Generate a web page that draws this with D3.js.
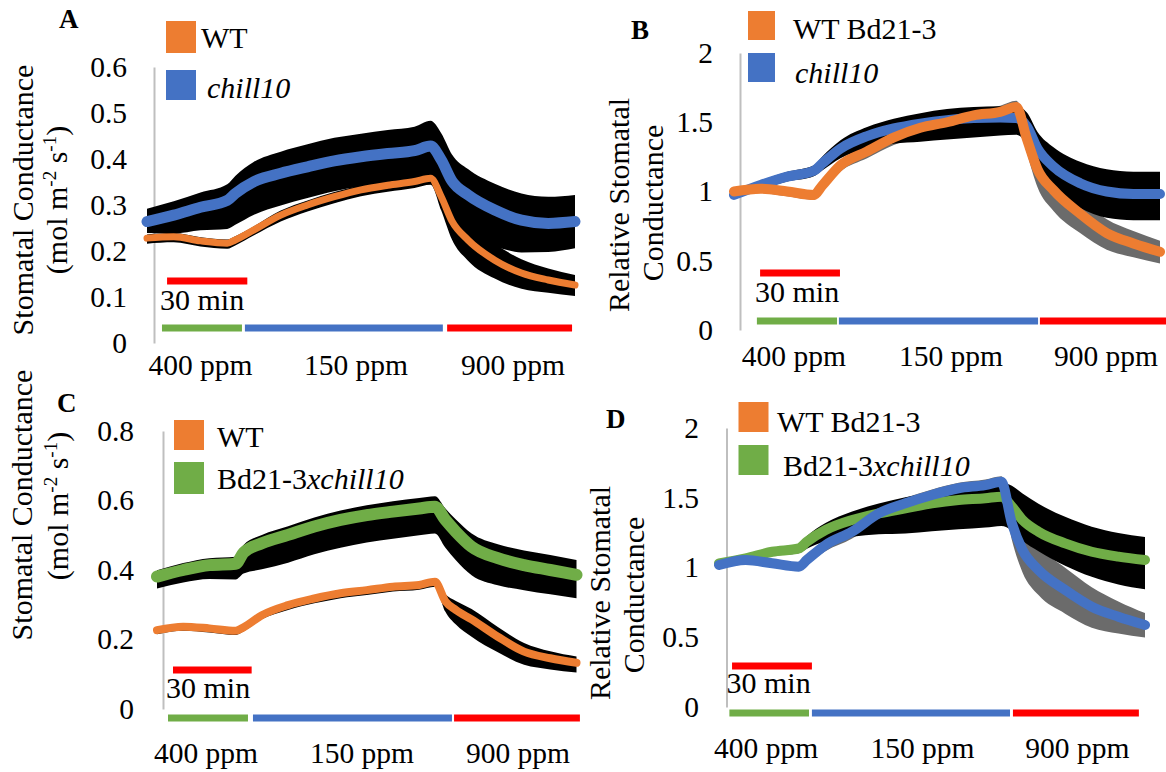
<!doctype html>
<html>
<head>
  <meta charset="utf8">
  <title>stomatal conductance</title>
  <style>
    body {
      margin: 0;
      padding: 0;
      background: #fff;
    }
    svg {
      display: block;
    }
  </style>
</head>
<body>
  <svg></svg>

  <script src="https://d3js.org/d3.v7.min.js"></script>
  <script>
    const width = 1166
    const height = 772
    const serif = "'Liberation Serif', 'Times New Roman', serif"

    // sample times (min) shared by every series
    const minutes = [0, 10, 20, 30, 33, 40, 50, 60, 70, 80, 90, 100, 106, 110, 114, 120, 130, 140, 150, 160]

    // A: stomatal conductance, WT vs chill10
    const wtA = [0.228, 0.231, 0.222, 0.217, 0.224, 0.246, 0.278, 0.300, 0.318, 0.333, 0.343, 0.351, 0.358, 0.318, 0.265, 0.224, 0.180, 0.152, 0.137, 0.126]
    const wtAHi = [0.008, 0.008, 0.008, 0.008, 0.008, 0.008, 0.01, 0.01, 0.01, 0.01, 0.01, 0.01, 0.01, 0.025, 0.035, 0.04, 0.036, 0.03, 0.025, 0.022]
    const wtALo = [0.012, 0.012, 0.012, 0.012, 0.012, 0.012, 0.014, 0.014, 0.014, 0.014, 0.014, 0.014, 0.014, 0.03, 0.04, 0.045, 0.04, 0.034, 0.028, 0.024]
    const chillA = [0.264, 0.278, 0.295, 0.310, 0.325, 0.351, 0.369, 0.383, 0.396, 0.405, 0.412, 0.418, 0.428, 0.398, 0.352, 0.322, 0.289, 0.267, 0.260, 0.264]
    const chillAHi = [0.028, 0.03, 0.032, 0.035, 0.038, 0.043, 0.047, 0.049, 0.05, 0.05, 0.051, 0.052, 0.055, 0.058, 0.058, 0.056, 0.057, 0.058, 0.058, 0.058]
    const chillALo = [0.025, 0.04, 0.05, 0.062, 0.068, 0.072, 0.07, 0.068, 0.066, 0.065, 0.065, 0.065, 0.065, 0.07, 0.078, 0.082, 0.078, 0.07, 0.062, 0.058]

    // B: relative conductance, WT Bd21-3 vs chill10
    const wtB = [1.00, 1.02, 1.00, 0.975, 1.04, 1.19, 1.29, 1.39, 1.46, 1.50, 1.55, 1.575, 1.61, 1.38, 1.16, 1.01, 0.84, 0.70, 0.625, 0.565]
    const wtBHi = [0.02, 0.02, 0.025, 0.025, 0.03, 0.035, 0.04, 0.045, 0.045, 0.045, 0.045, 0.045, 0.045, 0.08, 0.1, 0.11, 0.11, 0.1, 0.09, 0.08]
    const wtBLo = [0.025, 0.03, 0.035, 0.035, 0.04, 0.045, 0.05, 0.055, 0.055, 0.055, 0.055, 0.055, 0.055, 0.1, 0.13, 0.15, 0.14, 0.12, 0.1, 0.085]
    const chillB = [0.975, 1.047, 1.107, 1.15, 1.20, 1.31, 1.40, 1.455, 1.49, 1.515, 1.53, 1.535, 1.53, 1.47, 1.31, 1.18, 1.06, 1.00, 0.982, 0.982]
    const chillBHi = [0.02, 0.03, 0.035, 0.04, 0.05, 0.06, 0.065, 0.07, 0.075, 0.08, 0.08, 0.08, 0.085, 0.1, 0.12, 0.14, 0.155, 0.16, 0.16, 0.16]
    const chillBLo = [0.02, 0.03, 0.035, 0.04, 0.05, 0.07, 0.09, 0.11, 0.13, 0.14, 0.14, 0.13, 0.12, 0.13, 0.15, 0.17, 0.18, 0.19, 0.19, 0.19]

    // C: stomatal conductance, WT vs Bd21-3xchill10
    const wtC = [0.227, 0.237, 0.232, 0.225, 0.235, 0.270, 0.299, 0.318, 0.333, 0.342, 0.352, 0.357, 0.366, 0.310, 0.285, 0.258, 0.208, 0.165, 0.146, 0.133]
    const wtCHi = [0.006, 0.006, 0.006, 0.006, 0.006, 0.006, 0.008, 0.008, 0.008, 0.008, 0.008, 0.008, 0.008, 0.02, 0.026, 0.03, 0.028, 0.025, 0.02, 0.018]
    const wtCLo = [0.012, 0.012, 0.012, 0.012, 0.012, 0.012, 0.014, 0.014, 0.014, 0.014, 0.014, 0.014, 0.014, 0.03, 0.042, 0.05, 0.045, 0.038, 0.032, 0.028]
    const crossC = [0.381, 0.400, 0.414, 0.418, 0.450, 0.477, 0.501, 0.525, 0.544, 0.558, 0.568, 0.577, 0.582, 0.544, 0.510, 0.467, 0.434, 0.414, 0.400, 0.386]
    const crossCHi = [0.018, 0.02, 0.02, 0.02, 0.022, 0.024, 0.025, 0.026, 0.027, 0.028, 0.03, 0.03, 0.03, 0.033, 0.035, 0.038, 0.04, 0.042, 0.043, 0.043]
    const crossCLo = [0.034, 0.036, 0.04, 0.045, 0.06, 0.075, 0.08, 0.08, 0.08, 0.079, 0.078, 0.077, 0.077, 0.08, 0.082, 0.082, 0.078, 0.072, 0.07, 0.067]

    // D: relative conductance, WT Bd21-3 vs Bd21-3xchill10
    const wtD = [1.018, 1.054, 1.030, 1.006, 1.054, 1.161, 1.257, 1.388, 1.460, 1.520, 1.568, 1.591, 1.615, 1.317, 1.125, 0.982, 0.839, 0.719, 0.647, 0.588]
    const wtDHi = [0.02, 0.02, 0.02, 0.02, 0.025, 0.03, 0.035, 0.04, 0.04, 0.04, 0.04, 0.04, 0.04, 0.1, 0.14, 0.16, 0.16, 0.14, 0.11, 0.085]
    const wtDLo = [0.03, 0.03, 0.03, 0.03, 0.035, 0.045, 0.05, 0.05, 0.05, 0.05, 0.05, 0.05, 0.05, 0.12, 0.16, 0.18, 0.17, 0.15, 0.12, 0.09]
    const crossD = [1.030, 1.066, 1.113, 1.137, 1.185, 1.269, 1.341, 1.388, 1.424, 1.460, 1.484, 1.496, 1.508, 1.436, 1.341, 1.257, 1.173, 1.113, 1.078, 1.054]
    const crossDHi = [0.02, 0.025, 0.03, 0.03, 0.04, 0.05, 0.06, 0.07, 0.08, 0.08, 0.09, 0.1, 0.1, 0.15, 0.19, 0.2, 0.19, 0.18, 0.17, 0.165]
    const crossDLo = [0.02, 0.025, 0.03, 0.035, 0.05, 0.08, 0.12, 0.15, 0.18, 0.2, 0.21, 0.21, 0.21, 0.17, 0.15, 0.14, 0.16, 0.18, 0.2, 0.21]

    // tick labels
    const ticksA = [0, 0.1, 0.2, 0.3, 0.4, 0.5, 0.6]
    const ticksC = [0, 0.2, 0.4, 0.6, 0.8]
    const ticksRel = [0, 0.5, 1, 1.5, 2]

    // CO2 phases: label, colour, and per panel [start, end] in minutes
    const phaseNames = ['400 ppm', '150 ppm', '900 ppm']
    const phaseColors = ['#70ad47', '#4472c4', '#ff0000']
    const phasesA = [[5.6, 35.5], [36.6, 110.6], [112.2, 158.9]]
    const phasesB = [[8.6, 38.7], [39.4, 114.2], [114.9, 162.6]]
    const phasesC = [[4.2, 34.7], [36.6, 112.5], [113.3, 161.3]]
    const phasesD = [[3.9, 33.8], [34.9, 109.3], [110.4, 157.7]]
    const phaseLabelsA = [20, 78.1, 136.8]
    const phaseLabelsB = [22.5, 81.5, 139.7]
    const phaseLabelsC = [18.7, 78.2, 137.7]
    const phaseLabelsD = [17.7, 76.4, 134.6]

    // 30 min scale bar start (min)
    const scaleStart = { A: 7.5, B: 9.8, C: 6.1, D: 4.9 }

    // legend labels, [text, italic]
    const legendWT = [['WT', false]]
    const legendWTBd = [['WT Bd21-3', false]]
    const legendChill = [['chill10', true]]
    const legendCross = [['Bd21-3', false], ['xchill10', true]]

    const orange = '#ed7d31'
    const blue = '#4472c4'
    const green = '#70ad47'

    const absTitle = [[['Stomatal Conductance', 0]], [['(mol m', 0], ['-2', 1], [' s', 0], ['-1', 1], [')', 0]]]
    const relTitle = [[['Relative Stomatal', 0]], [['Conductance', 0]]]

    const pack = (mean, hi, lo) => mean.map((m, i) => ({ t: minutes[i], m, hi: hi[i], lo: lo[i] }))

    const panels = [
      {
        id: 'A', letterAt: [59, 28],
        xRange: [147, 575], yRange: [343, 67], yMax: 0.6, ticks: ticksA, axisX: 154, pad: 27,
        title: absTitle, titleAt: [[33, 200], [67, 200]],
        phases: phasesA, phaseLabels: phaseLabelsA, phaseY: 328, labelY: 375,
        scaleY: 281, scaleText: [160, 310],
        series: [
          { data: pack(wtA, wtAHi, wtALo), color: orange, err: '#000', w: 7 },
          { data: pack(chillA, chillAHi, chillALo), color: blue, err: '#000', w: 11 }
        ],
        lineOrder: [0, 1],
        legend: [
          { label: legendWT, color: orange, box: [166, 21, 30, 32], text: [201, 48] },
          { label: legendChill, color: blue, box: [166, 70, 30, 30], text: [207, 98] }
        ]
      },
      {
        id: 'B', letterAt: [631, 39],
        xRange: [734, 1160], yRange: [330, 53], yMax: 2, ticks: ticksRel, axisX: 740, pad: 27,
        title: relTitle, titleAt: [[629, 205], [663, 203]],
        phases: phasesB, phaseLabels: phaseLabelsB, phaseY: 321, labelY: 366,
        scaleY: 273, scaleText: [755, 302],
        series: [
          { data: pack(wtB, wtBHi, wtBLo), color: orange, err: '#6b6b6b', w: 10 },
          { data: pack(chillB, chillBHi, chillBLo), color: blue, err: '#000', w: 10 }
        ],
        lineOrder: [1, 0],
        legend: [
          { label: legendWTBd, color: orange, box: [748, 11, 27, 29], text: [793, 39] },
          { label: legendChill, color: blue, box: [748, 53, 27, 29], text: [795, 83] }
        ]
      },
      {
        id: 'C', letterAt: [57, 412],
        xRange: [157, 576.5], yRange: [709, 431], yMax: 0.8, ticks: ticksC, axisX: 163, pad: 29,
        title: absTitle, titleAt: [[32, 505], [68, 506]],
        phases: phasesC, phaseLabels: phaseLabelsC, phaseY: 718, labelY: 763,
        scaleY: 670, scaleText: [166, 698],
        series: [
          { data: pack(wtC, wtCHi, wtCLo), color: orange, err: '#000', w: 8 },
          { data: pack(crossC, crossCHi, crossCLo), color: green, err: '#000', w: 12 }
        ],
        lineOrder: [0, 1],
        legend: [
          { label: legendWT, color: orange, box: [174, 420, 30, 30], text: [217, 447] },
          { label: legendCross, color: green, box: [174, 462, 30, 32], text: [217, 489] }
        ]
      },
      {
        id: 'D', letterAt: [606, 428],
        xRange: [719, 1145], yRange: [707, 428], yMax: 2, ticks: ticksRel, axisX: 726.5, pad: 27.5,
        title: relTitle, titleAt: [[610, 593], [644, 595]],
        phases: phasesD, phaseLabels: phaseLabelsD, phaseY: 713, labelY: 758,
        scaleY: 666, scaleText: [726.5, 693],
        series: [
          // WT is plotted in blue here (legend swatch stays orange, as in the figure)
          { data: pack(wtD, wtDHi, wtDLo), color: blue, err: '#6b6b6b', w: 10 },
          { data: pack(crossD, crossDHi, crossDLo), color: green, err: '#000', w: 10 }
        ],
        lineOrder: [1, 0],
        legend: [
          { label: legendWTBd, color: orange, box: [738.5, 402, 30, 30], text: [777, 432] },
          { label: legendCross, color: green, box: [738.5, 445, 30, 30], text: [783, 476] }
        ]
      }
    ]

    const svg = d3.select('svg')
      .attr('width', width)
      .attr('height', height)
      .attr('font-family', serif)

    panels.forEach(p => {
      const g = svg.append('g')
      const x = d3.scaleLinear().domain([0, 160]).range(p.xRange)
      const y = d3.scaleLinear().domain([0, p.yMax]).range(p.yRange)

      // y axis: grey line, no ticks
      const axis = d3.axisLeft(y)
        .tickValues(p.ticks)
        .tickSize(0)
        .tickPadding(p.pad)
        .tickFormat(d3.format('~g'))
      const ax = g.append('g')
        .attr('transform', `translate(${p.axisX},0)`)
        .call(axis)
        .attr('font-family', serif)
        .attr('font-size', 29.5)
      ax.select('.domain').attr('stroke', '#bfbfbf').attr('stroke-width', 2)
      ax.selectAll('text').attr('fill', '#000')

      // error bands
      const area = d3.area()
        .x(d => x(d.t))
        .y0(d => y(d.m - d.lo))
        .y1(d => y(d.m + d.hi))
        .curve(d3.curveMonotoneX)
      p.series.forEach(s => {
        g.append('path')
          .attr('d', area(s.data))
          .attr('fill', s.err)
      })

      // mean lines
      const line = d3.line()
        .x(d => x(d.t))
        .y(d => y(d.m))
        .curve(d3.curveMonotoneX)
      p.lineOrder.forEach(i => {
        const s = p.series[i]
        g.append('path')
          .attr('d', line(s.data))
          .attr('fill', 'none')
          .attr('stroke', s.color)
          .attr('stroke-width', s.w)
          .attr('stroke-linecap', 'round')
          .attr('stroke-linejoin', 'round')
      })

      // CO2 phase bars and labels
      p.phases.forEach((ph, i) => {
        g.append('line')
          .attr('x1', x(ph[0])).attr('x2', x(ph[1]))
          .attr('y1', p.phaseY).attr('y2', p.phaseY)
          .attr('stroke', phaseColors[i])
          .attr('stroke-width', 7)
        g.append('text')
          .attr('x', x(p.phaseLabels[i]))
          .attr('y', p.labelY)
          .attr('text-anchor', 'middle')
          .attr('font-size', 29.5)
          .text(phaseNames[i])
      })

      // 30 min scale bar
      const s0 = scaleStart[p.id]
      g.append('line')
        .attr('x1', x(s0)).attr('x2', x(s0 + 30))
        .attr('y1', p.scaleY).attr('y2', p.scaleY)
        .attr('stroke', '#ff0000')
        .attr('stroke-width', 7)
      g.append('text')
        .attr('x', p.scaleText[0])
        .attr('y', p.scaleText[1])
        .attr('font-size', 30)
        .text('30 min')

      // legend
      p.legend.forEach(l => {
        g.append('rect')
          .attr('x', l.box[0]).attr('y', l.box[1])
          .attr('width', l.box[2]).attr('height', l.box[3])
          .attr('fill', l.color)
        const t = g.append('text')
          .attr('x', l.text[0])
          .attr('y', l.text[1])
          .attr('font-size', 30)
        l.label.forEach(([str, it]) => {
          t.append('tspan')
            .attr('font-style', it ? 'italic' : null)
            .text(str)
        })
      })

      // panel letter
      g.append('text')
        .attr('x', p.letterAt[0])
        .attr('y', p.letterAt[1])
        .attr('font-size', 27)
        .attr('font-weight', 'bold')
        .text(p.id)

      // y title, two rotated lines
      p.title.forEach((parts, li) => {
        const [tx, ty] = p.titleAt[li]
        const t = g.append('text')
          .attr('transform', `translate(${tx},${ty}) rotate(-90)`)
          .attr('text-anchor', 'middle')
          .attr('font-size', 30)
        let shift = 0
        parts.forEach(([str, sup]) => {
          const want = sup ? -11 : 0
          t.append('tspan')
            .attr('dy', want - shift)
            .attr('font-size', sup ? 19 : null)
            .text(str)
          shift = want
        })
      })
    })
  </script>
</body>
</html>
